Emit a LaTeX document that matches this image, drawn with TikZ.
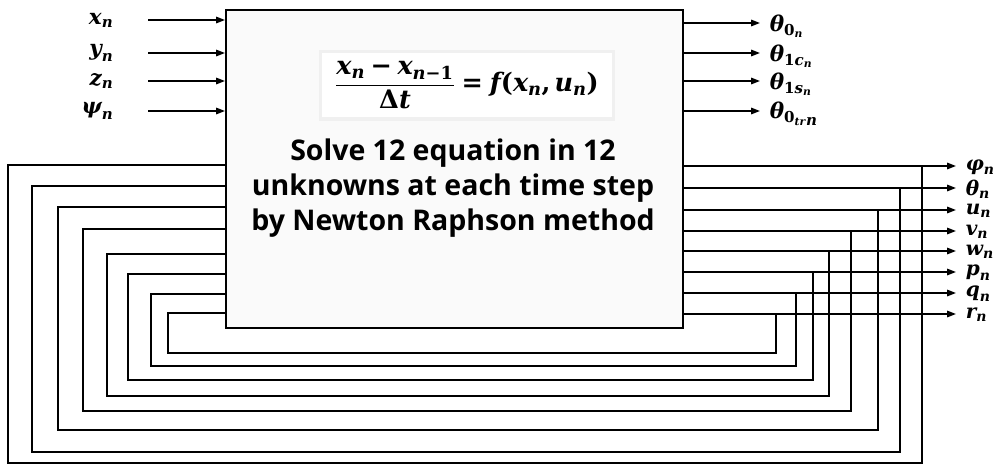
\documentclass[tikz,border=0pt]{standalone}
\usepackage{amsmath}
\usepackage{fontspec}
\newfontfamily\osans{Open Sans}
\newfontfamily\cam{DejaVu Serif}
\newcommand{\bi}[1]{\text{\cam\bfseries\itshape #1}}
\newcommand{\bu}[1]{\text{\cam\bfseries #1}}
\usetikzlibrary{arrows.meta}
\begin{document}
\begin{tikzpicture}[x=1pt,y=-1pt,line width=1.6pt,
  arr/.style={-{Triangle[length=9pt,width=6.5pt]}},
  lab/.style={font=\fontsize{21.5}{22}\selectfont,inner sep=0pt},
  inlab/.style={lab,anchor=east},
  outlab/.style={lab,anchor=west},
  fblab/.style={font=\fontsize{20}{21}\selectfont,inner sep=0pt,anchor=west},
  fb/.style={line width=1.6pt}]
\useasboundingbox (0,0) rectangle (1002,466);
% main block
\node[draw,fill=black!2,minimum width=457pt,minimum height=318pt,anchor=north west,inner sep=0pt] (box) at (225,9) {};
\fill[black!6] (319,50) rectangle (615,121);
\node[fill=white,minimum width=290pt,minimum height=64pt,font=\fontsize{25.5}{27}\selectfont] (formula) at (467,85)
  {$\displaystyle\frac{\bi{x}_{\bi{n}}\mathbin{\bu{−}}\bi{x}_{\bi{n}\bu{−1}}}{\bu{Δ}\bi{t}}\mathrel{\bu{=}}\bi{f}\bu{(}\bi{x}_{\bi{n}}\bu{,}\,\bi{u}_{\bi{n}}\bu{)}$};
\node[align=center,font=\osans\bfseries\fontsize{28.5}{35}\selectfont] (txt) at (453,188) {Solve 12 equation in 12\\unknowns at each time step\\by Newton Raphson method};
% inputs
\foreach \nm/\y/\t in {xn/20/\bi{x}_{\bi{n}}, yn/53/\bi{y}_{\bi{n}}, zn/81/\bi{z}_{\bi{n}}, psin/111/\bi{ψ}_{\bi{n}}}{
  \node[inlab] (\nm) at (114,\y) {$\t$};
  \coordinate (\nm s) at (148,\y);
  \draw[arr] (\nm s) -- (\nm s -| box.west);
}
% outputs
\foreach \nm/\y/\t in {tz/23/\bi{θ}_{\bu{0}_{\bi{n}}}, tc/53/\bi{θ}_{\bu{1}\bi{c}_{\bi{n}}}, ts/81/\bi{θ}_{\bu{1}\bi{s}_{\bi{n}}}, ttr/111/{\bi{θ}_{\bu{0}_{\bi{tr}}}}_{\bi{n}}}{
  \coordinate (\nm e) at (760,\y);
  \node[outlab] (\nm) at (769,\y+3) {$\t$};
  \draw[arr] (\nm e -| box.east) -- (\nm e);
}
% feedback outputs and loops
\foreach \nm/\yr/\xv/\yb/\xl/\yt/\t in {
  phi/166/922/463/8/165/\bi{φ}_{\bi{n}},
  th/188/900/452/32/186/\bi{θ}_{\bi{n}},
  u/210/878/430/58/207/\bi{u}_{\bi{n}},
  v/231/851/411/83/229/\bi{v}_{\bi{n}},
  w/251/829/396/107/254/\bi{w}_{\bi{n}},
  p/272/813/380/128/274/\bi{p}_{\bi{n}},
  q/293/796/366/151/294/\bi{q}_{\bi{n}},
  r/314/776/353/168/313/\bi{r}_{\bi{n}}}{
  \coordinate (\nm e) at (956,\yr);
  \coordinate (\nm v) at (\xv,\yr);
  \coordinate (\nm b) at (\xv,\yb);
  \coordinate (\nm l) at (\xl,\yb);
  \coordinate (\nm t) at (\xl,\yt);
  \node[fblab] (\nm) at (965,\yr+1) {$\t$};
  \draw[arr] (\nm e -| box.east) -- (\nm e);
  \draw[fb] (\nm v) -- (\nm b) -- (\nm l) -- (\nm t) -- (\nm t -| box.west);
}
\end{tikzpicture}
\end{document}
